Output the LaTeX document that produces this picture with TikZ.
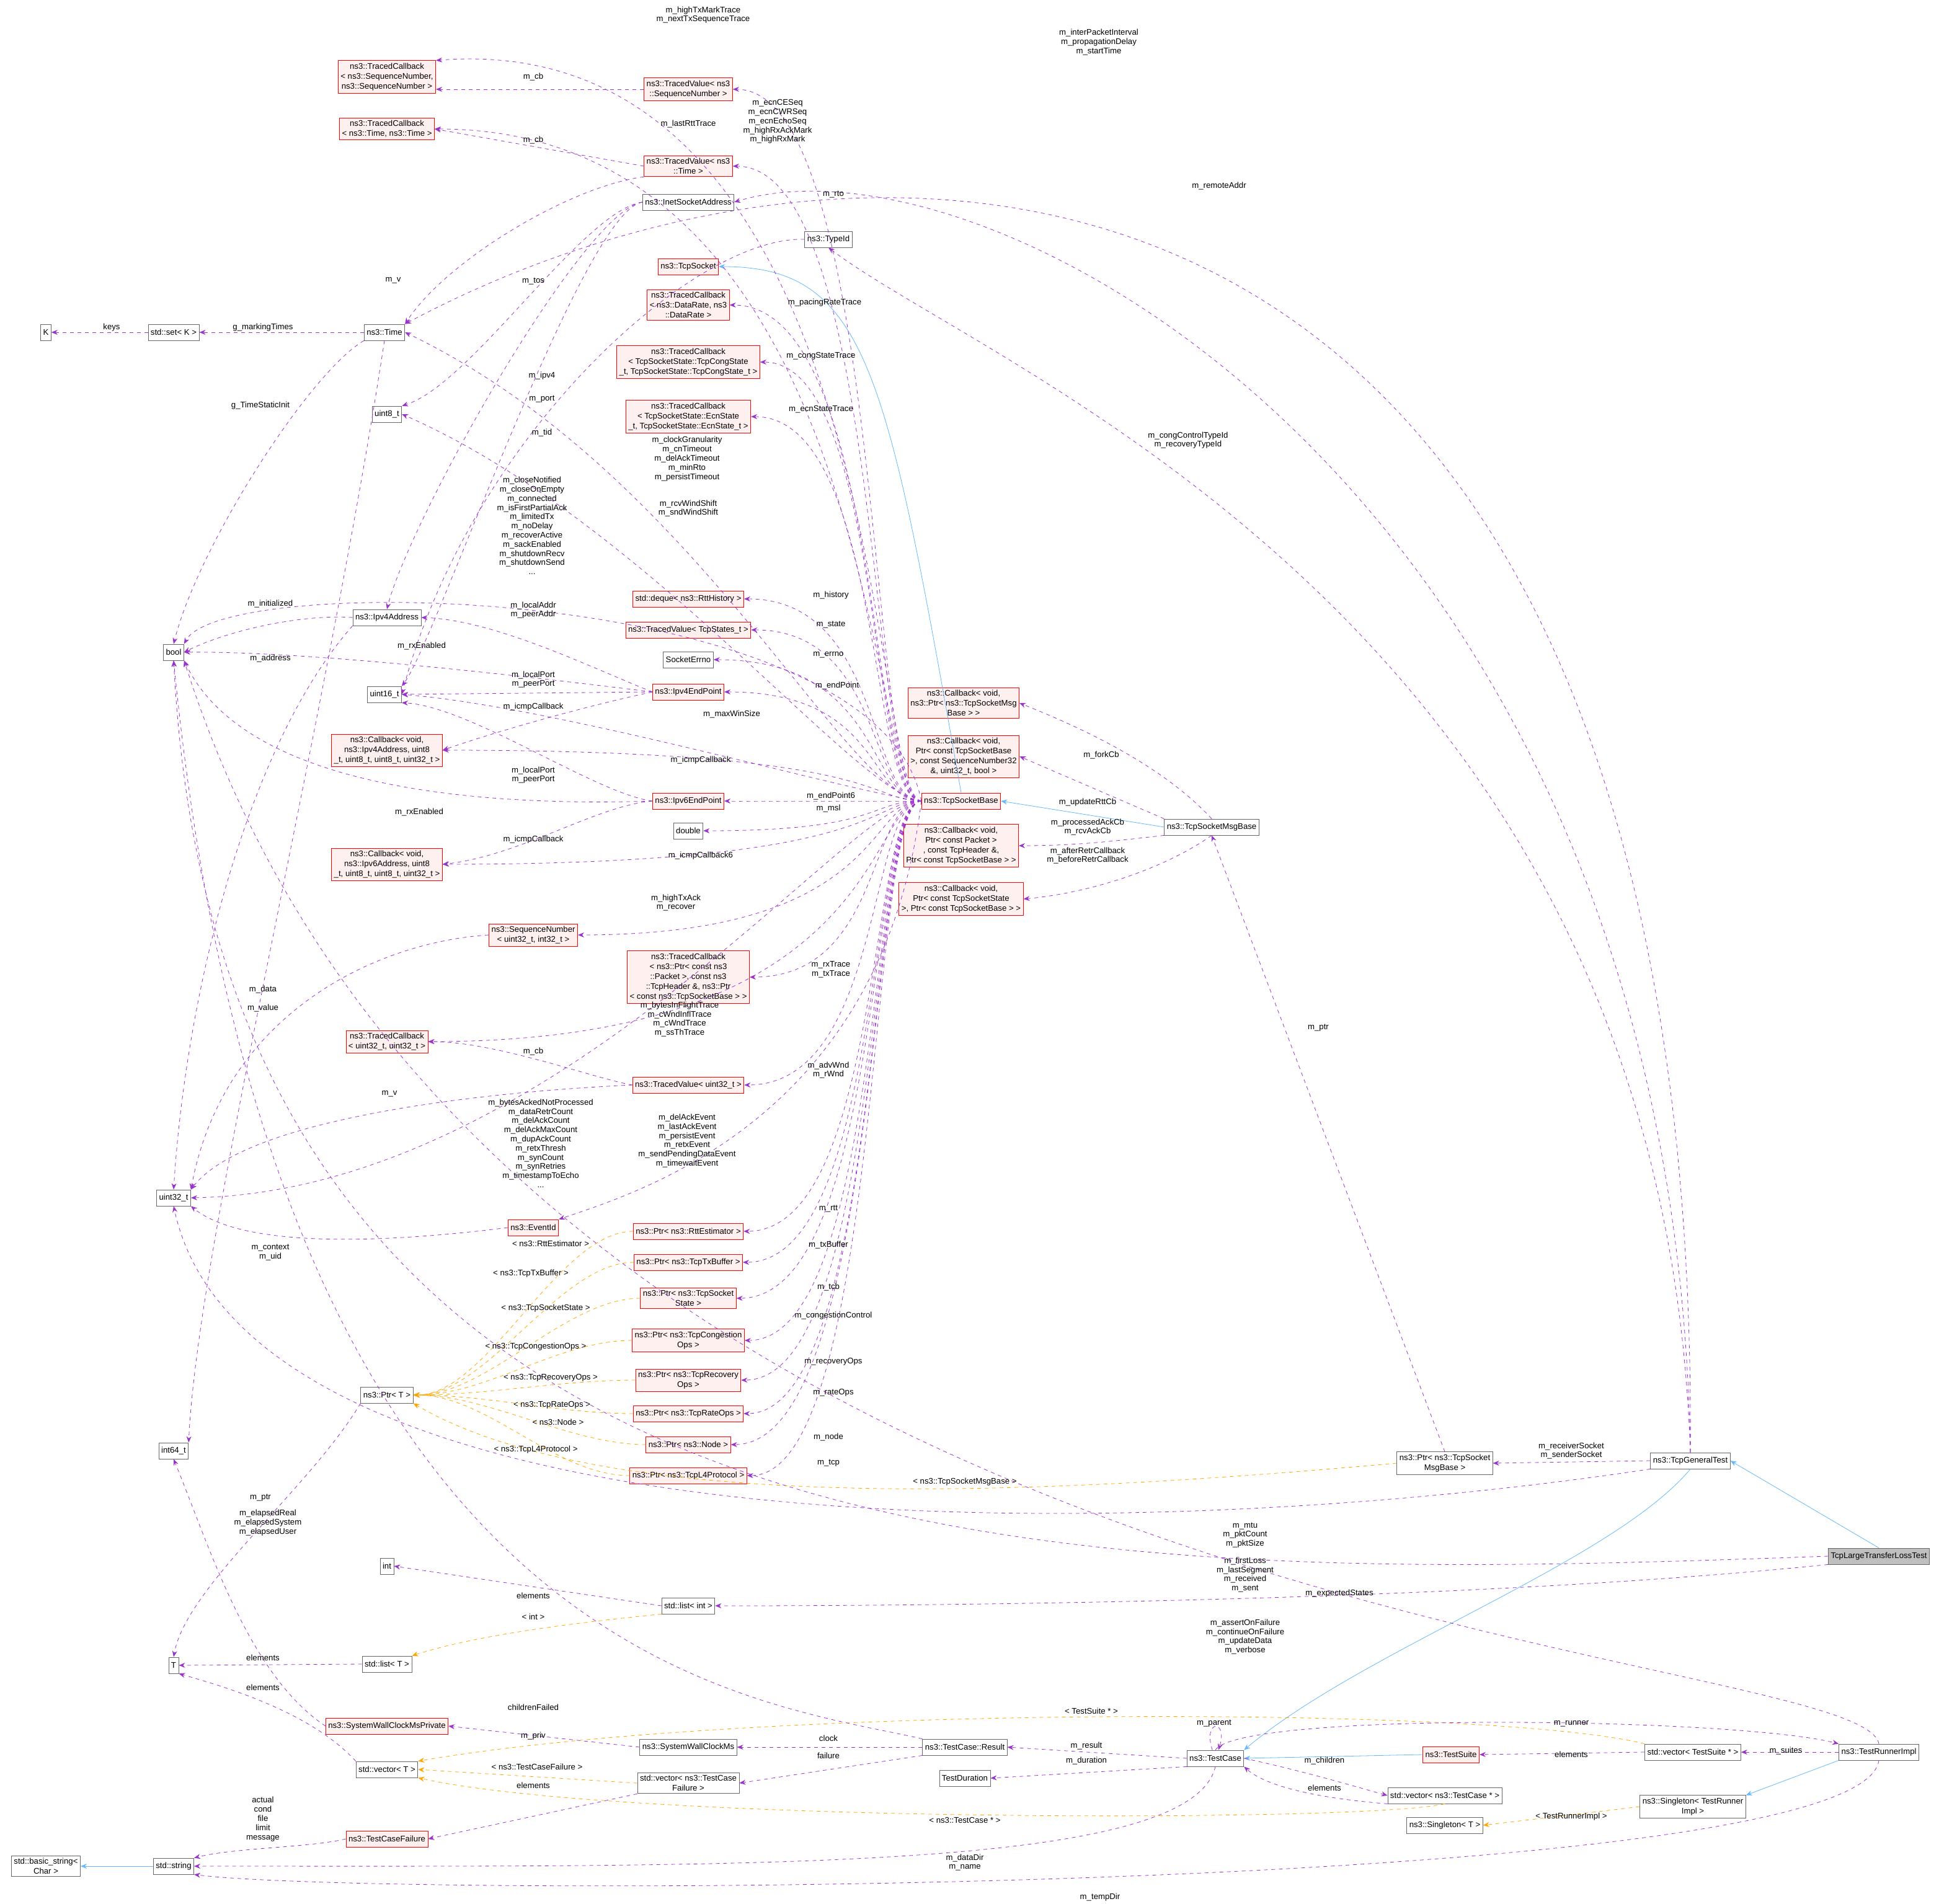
\documentclass[tikz,border=0pt]{standalone}
\usepackage{fontspec}
\setmainfont{Liberation Sans}
\usetikzlibrary{arrows.meta}
\definecolor{mpur}{HTML}{9A32CD}
\definecolor{morg}{HTML}{FFA500}
\definecolor{mblu}{HTML}{63B8FF}
\definecolor{rfill}{HTML}{FFF0F0}
\begin{document}
\begin{tikzpicture}[x=1pt,y=-1pt,
 every node/.style={font=\fontsize{6.6}{8}\selectfont},
 gb/.style={draw=black!60,fill=white,inner sep=2pt,minimum height=13pt,align=center},
 rb/.style={draw=red,fill=rfill,inner sep=2pt,minimum height=13pt,align=center},
 mem/.style={draw=mpur,dashed,-{Stealth[length=5pt,width=4pt]}},
 tpl/.style={draw=morg,dashed,-{Stealth[length=5pt,width=4pt]}},
 inh/.style={draw=mblu,-{Stealth[length=5pt,width=4pt]}},
 lb/.style={align=center,inner sep=0pt,font=\fontsize{6.6}{7.4}\selectfont}]
\useasboundingbox (0,0) rectangle (1563.5,1535.5);
\coordinate (bx) at (712,0);
% ---- nodes left
\node[gb] (K) at (37,268) {K};
\node[gb] (setK) at (140,268) {std::set< K >};
\node[gb] (time) at (310,268) {ns3::Time};
\node[gb] (u8) at (312,334) {uint8\_t};
\node[gb] (boolN) at (140,526) {bool};
\node[gb] (ipv4a) at (312,498) {ns3::Ipv4Address};
\node[gb] (u16) at (310,560) {uint16\_t};
\node[rb] (cb4) at (312,605) {ns3::Callback< void,\\ns3::Ipv4Address, uint8\\\_t, uint8\_t, uint8\_t, uint32\_t >};
\node[rb] (cb6) at (312,697) {ns3::Callback< void,\\ns3::Ipv6Address, uint8\\\_t, uint8\_t, uint8\_t, uint32\_t >};
\node[rb] (tcu32) at (312,840) {ns3::TracedCallback\\< uint32\_t, uint32\_t >};
\node[gb] (u32) at (140,966) {uint32\_t};
\node[gb] (i64) at (140,1170) {int64\_t};
\node[gb] (ptrT) at (312,1125) {ns3::Ptr< T >};
\node[gb] (intN) at (312,1263) {int};
\node[gb] (T) at (140,1343) {T};
\node[gb] (listT) at (312,1342) {std::list< T >};
\node[rb] (swcp) at (312,1392) {ns3::SystemWallClockMsPrivate};
\node[gb] (vecT) at (312,1427) {std::vector< T >};
\node[rb] (tcf) at (312,1483) {ns3::TestCaseFailure};
\node[gb] (str) at (140,1505) {std::string};
\node[gb] (bstr) at (37,1505) {std::basic\_string<\\Char >};
\node[rb] (tcSeq) at (312,62) {ns3::TracedCallback\\< ns3::SequenceNumber,\\ns3::SequenceNumber >};
\node[rb] (tcTime) at (312,104) {ns3::TracedCallback\\< ns3::Time, ns3::Time >};
% ---- middle
\node[rb] (tvSeq) at (555,72) {ns3::TracedValue< ns3\\::SequenceNumber >};
\node[rb] (tvTime) at (555,134) {ns3::TracedValue< ns3\\::Time >};
\node[gb] (inet) at (555,163) {ns3::InetSocketAddress};
\node[gb] (typeid) at (668,193) {ns3::TypeId};
\node[rb] (tcpsock) at (555,215) {ns3::TcpSocket};
\node[rb] (tcDR) at (555,246) {ns3::TracedCallback\\< ns3::DataRate, ns3\\::DataRate >};
\node[rb] (tcCong) at (555,292) {ns3::TracedCallback\\< TcpSocketState::TcpCongState\\\_t, TcpSocketState::TcpCongState\_t >};
\node[rb] (tcEcn) at (555,336) {ns3::TracedCallback\\< TcpSocketState::EcnState\\\_t, TcpSocketState::EcnState\_t >};
\node[rb] (deque) at (555,483) {std::deque< ns3::RttHistory >};
\node[rb] (tvStates) at (555,508) {ns3::TracedValue< TcpStates\_t >};
\node[gb] (errno) at (555,532) {SocketErrno};
\node[rb] (ep4) at (555,558) {ns3::Ipv4EndPoint};
\node[rb] (ep6) at (555,646) {ns3::Ipv6EndPoint};
\node[gb] (dbl) at (555,670) {double};
\node[rb] (seqnum) at (430,754) {ns3::SequenceNumber\\< uint32\_t, int32\_t >};
\node[rb] (tcPkt) at (555,788) {ns3::TracedCallback\\< ns3::Ptr< const ns3\\::Packet >, const ns3\\::TcpHeader \&, ns3::Ptr\\< const ns3::TcpSocketBase > >};
\node[rb] (tvU32) at (555,875) {ns3::TracedValue< uint32\_t >};
\node[rb] (evid) at (430,990) {ns3::EventId};
\node[rb] (pRtt) at (555,993) {ns3::Ptr< ns3::RttEstimator >};
\node[rb] (pTx) at (555,1018) {ns3::Ptr< ns3::TcpTxBuffer >};
\node[rb] (pTcb) at (555,1047) {ns3::Ptr< ns3::TcpSocket\\State >};
\node[rb] (pCong) at (555,1081) {ns3::Ptr< ns3::TcpCongestion\\Ops >};
\node[rb] (pRec) at (555,1113) {ns3::Ptr< ns3::TcpRecovery\\Ops >};
\node[rb] (pRate) at (555,1140) {ns3::Ptr< ns3::TcpRateOps >};
\node[rb] (pNode) at (555,1165) {ns3::Ptr< ns3::Node >};
\node[rb] (pL4) at (555,1190) {ns3::Ptr< ns3::TcpL4Protocol >};
\node[gb] (listInt) at (555,1295) {std::list< int >};
\node[gb] (swc) at (555,1409) {ns3::SystemWallClockMs};
\node[gb] (vecTCF) at (555,1438) {std::vector< ns3::TestCase\\Failure >};
\node[gb] (result) at (778,1409) {ns3::TestCase::Result};
\node[gb] (tdur) at (778,1434) {TestDuration};
% ---- right
\node[rb] (tsb) at (775,646) {ns3::TcpSocketBase};
\node[rb] (cbFork) at (777,567) {ns3::Callback< void,\\ns3::Ptr< ns3::TcpSocketMsg\\Base > >};
\node[rb] (cbRtt) at (777,610) {ns3::Callback< void,\\Ptr< const TcpSocketBase\\>, const SequenceNumber32\\\&, uint32\_t, bool >};
\node[rb] (cbAck) at (775,682) {ns3::Callback< void,\\Ptr< const Packet >\\, const TcpHeader \&,\\Ptr< const TcpSocketBase > >};
\node[rb] (cbRetr) at (775,725) {ns3::Callback< void,\\Ptr< const TcpSocketState\\>, Ptr< const TcpSocketBase > >};
\node[gb] (tsmb) at (977,667) {ns3::TcpSocketMsgBase};
\node[gb] (ptsmb) at (1165,1180) {ns3::Ptr< ns3::TcpSocket\\MsgBase >};
\node[gb] (gen) at (1363,1178) {ns3::TcpGeneralTest};
\node[gb,fill=black!25] (ltl) at (1515,1255) {TcpLargeTransferLossTest};
\node[gb] (tcase) at (980,1418) {ns3::TestCase};
\node[rb] (tsuite) at (1170,1415) {ns3::TestSuite};
\node[gb] (vecTC) at (1165,1448) {std::vector< ns3::TestCase * >};
\node[gb] (singT) at (1165,1472) {ns3::Singleton< T >};
\node[gb] (vecTS) at (1365,1413) {std::vector< TestSuite * >};
\node[gb] (singTR) at (1365,1457) {ns3::Singleton< TestRunner\\Impl >};
\node[gb] (runner) at (1515,1413) {ns3::TestRunnerImpl};
% ---- inheritance
\draw[inh] (tsb.north) .. controls (715,300) and (700,215) .. (tcpsock.east);
\draw[inh] (tsmb.west) -- (tsb.east);
\draw[inh] (ltl.north) -- (gen.east);
\draw[inh] (gen.south) .. controls (1300,1260) and (1100,1330) .. (tcase.north east);
\draw[inh] (tsuite.west) -- (tcase.east);
\draw[inh] (runner.south west) -- (singTR.north east);
\draw[inh] (str.west) -- (bstr.east);
% ---- tsb members
\draw[mem] (tsb.west) .. controls (700,640) and (720,20) .. (tcSeq.north east);
\foreach \t in {tvSeq,tcTime,tvTime,tcDR,tcCong,tcEcn,deque,tvStates,errno,ep4,ep6,dbl,seqnum,tcPkt,tvU32,pRtt,pTx,pTcb,pCong,pRec,pRate,pNode,pL4,cb4,cb6,tcu32}
  \draw[mem] (tsb.west) .. controls (700,646) and (\t.east -| bx) .. (\t.east);
\draw[mem] (tsb.west) .. controls (712,900) and (520,960) .. (evid.north east);
\draw[mem] (tsb.west) .. controls (680,640) and (560,380) .. (time.east);
\draw[mem] (tsb.west) .. controls (690,640) and (520,420) .. (u8.east);
\draw[mem] (tsb.west) .. controls (710,470) and (180,460) .. (boolN.north east);
\draw[mem] (tsb.west) .. controls (690,640) and (450,570) .. (u16.east);
\draw[mem] (tsb.west) .. controls (690,640) and (450,960) .. (u32.east);
% ---- small edges
\draw[mem] (tvSeq.west) -- (tcSeq.east |- tvSeq.west);
\draw[mem] (tvTime.west) -- (tcTime.east);
\draw[mem] (tvTime.south west) .. controls (460,150) and (360,210) .. (time.north east);
\draw[mem] (inet.west) .. controls (470,170) and (380,310) .. (u8.north east);
\draw[mem] (inet.west) .. controls (470,170) and (330,420) .. (ipv4a.north);
\draw[mem] (inet.west) .. controls (470,170) and (350,520) .. (u16.north east);
\draw[mem] (typeid.west) .. controls (560,190) and (380,350) .. (u16.east);
\draw[mem] (time.west) -- (setK.east);
\draw[mem] (setK.west) -- (K.east);
\draw[mem] (time.south west) .. controls (250,300) and (160,440) .. (boolN.north);
\draw[mem] (time.south) .. controls (260,600) and (160,1000) .. (i64.north east);
\draw[mem] (ipv4a.west) .. controls (240,495) and (180,510) .. (boolN.east);
\draw[mem] (ipv4a.south west) .. controls (200,600) and (150,800) .. (u32.north);
\draw[mem] (ep4.west) .. controls (480,540) and (400,500) .. (ipv4a.east);
\draw[mem] (ep4.west) .. controls (420,545) and (250,525) .. (boolN.east);
\draw[mem] (ep4.west) -- (u16.east);
\draw[mem] (ep4.west) .. controls (470,570) and (400,590) .. (cb4.east);
\draw[mem] (ep6.west) .. controls (480,640) and (380,570) .. (u16.south east);
\draw[mem] (ep6.west) .. controls (400,650) and (200,640) .. (boolN.south east);
\draw[mem] (ep6.west) .. controls (480,650) and (420,690) .. (cb6.east);
\draw[mem] (seqnum.west) .. controls (300,760) and (180,820) .. (u32.north east);
\draw[mem] (tvU32.west) .. controls (480,870) and (400,840) .. (tcu32.east);
\draw[mem] (tvU32.west) .. controls (400,880) and (200,900) .. (u32.north east);
\draw[mem] (evid.west) .. controls (330,1000) and (200,1010) .. (u32.south east);
\foreach \t in {pRtt,pTx,pTcb,pCong,pRec,pRate,pNode,pL4}
  \draw[tpl] (\t.west) .. controls +(-60,0) and +(60,0) .. (ptrT.east);
\draw[tpl] (ptsmb.west) .. controls (900,1200) and (500,1230) .. (ptrT.south east);
\draw[mem] (ptrT.south west) .. controls (250,1200) and (150,1280) .. (T.north);
\draw[mem] (tsmb.north) .. controls (940,620) and (880,590) .. (cbFork.east);
\draw[mem] (tsmb.north west) -- (cbRtt.east);
\draw[mem] (tsmb.south west) .. controls (900,678) and (870,682) .. (cbAck.east);
\draw[mem] (tsmb.south) .. controls (940,700) and (880,720) .. (cbRetr.east);
\draw[mem] (ptsmb.north) -- (tsmb.south);
\draw[mem] (gen.west) -- (ptsmb.east);
\draw[mem] (gen.north) .. controls (1370,60) and (700,62) .. (time.north east);
\draw[mem] (gen.north) .. controls (1350,400) and (800,100) .. (inet.east);
\draw[mem] (gen.north) .. controls (1340,500) and (800,300) .. (typeid.south);
\draw[mem] (gen.south west) .. controls (900,1250) and (200,1250) .. (u32.south);
\draw[mem] (ltl.west) .. controls (900,1275) and (180,1300) .. (boolN.south);
\draw[mem] (ltl.south west) .. controls (1200,1290) and (800,1295) .. (listInt.east);
\draw[mem] (listInt.west) -- (intN.east);
\draw[tpl] (listInt.south west) .. controls (450,1310) and (380,1320) .. (listT.north east);
\draw[mem] (listT.west) -- (T.east);
\draw[mem] (vecT.north west) .. controls (250,1380) and (180,1360) .. (T.south east);
\draw[mem] (swcp.west) .. controls (200,1350) and (170,1250) .. (i64.south);
\draw[mem] (swc.west) -- (swcp.east);
\draw[mem] (result.west) -- (swc.east);
\draw[mem] (result.south west) -- (vecTCF.east);
\draw[mem] (result.north west) .. controls (600,1370) and (220,1340) .. (boolN.south);
\draw[mem] (vecTCF.south west) -- (tcf.east);
\draw[tpl] (vecTCF.west) -- (vecT.east);
\draw[mem] (tcf.west) .. controls (250,1490) and (190,1490) .. (str.north east);
\draw[mem] (tcase.west) -- (result.east);
\draw[mem] (tcase.south west) -- (tdur.east);
\draw[mem] (tcase.110) .. controls +(-8,-25) and +(8,-25) .. (tcase.70);
\draw[mem] (tcase.east) .. controls (1050,1428) and (1090,1440) .. (vecTC.west);
\draw[mem] (vecTC.south west) .. controls (1060,1450) and (1020,1440) .. (tcase.south east);
\draw[tpl] (vecTC.south) .. controls (1100,1470) and (500,1470) .. (vecT.south east);
\draw[mem] (tcase.south) .. controls (960,1510) and (600,1505) .. (str.east);
\draw[mem] (vecTS.west) -- (tsuite.east);
\draw[tpl] (vecTS.north west) .. controls (1200,1375) and (600,1375) .. (vecT.north east);
\draw[mem] (runner.west) -- (vecTS.east);
\draw[mem] (tcase.north) .. controls (1000,1380) and (1400,1385) .. (runner.north west);
\draw[mem] (runner.north) .. controls (1500,1325) and (400,1320) .. (boolN.south east);
\draw[mem] (runner.south) .. controls (1500,1530) and (300,1530) .. (str.south east);
\draw[tpl] (singTR.west) -- (singT.east);
% ---- labels
\node[lb] at (567,12) {m\_highTxMarkTrace\\m\_nextTxSequenceTrace};
\node[lb] at (886,34) {m\_interPacketInterval\\m\_propagationDelay\\m\_startTime};
\node[lb] at (983,150) {m\_remoteAddr};
\node[lb] at (958,355) {m\_congControlTypeId\\m\_recoveryTypeId};
\node[lb] at (430,62) {m\_cb};
\node[lb] at (430,113) {m\_cb};
\node[lb] at (555,100) {m\_lastRttTrace};
\node[lb] at (627,98) {m\_ecnCESeq\\m\_ecnCWRSeq\\m\_ecnEchoSeq\\m\_highRxAckMark\\m\_highRxMark};
\node[lb] at (672,157) {m\_rto};
\node[lb] at (317,226) {m\_v};
\node[lb] at (430,227) {m\_tos};
\node[lb] at (665,244) {m\_pacingRateTrace};
\node[lb] at (662,287) {m\_congStateTrace};
\node[lb] at (662,330) {m\_ecnStateTrace};
\node[lb] at (212,264) {g\_markingTimes};
\node[lb] at (90,264) {keys};
\node[lb] at (437,303) {m\_ipv4};
\node[lb] at (437,322) {m\_port};
\node[lb] at (210,327) {g\_TimeStaticInit};
\node[lb] at (437,349) {m\_tid};
\node[lb] at (554,370) {m\_clockGranularity\\m\_cnTimeout\\m\_delAckTimeout\\m\_minRto\\m\_persistTimeout};
\node[lb] at (555,410) {m\_rcvWindShift\\m\_sndWindShift};
\node[lb] at (429,424) {m\_closeNotified\\m\_closeOnEmpty\\m\_connected\\m\_isFirstPartialAck\\m\_limitedTx\\m\_noDelay\\m\_recoverActive\\m\_sackEnabled\\m\_shutdownRecv\\m\_shutdownSend\\...};
\node[lb] at (670,480) {m\_history};
\node[lb] at (670,504) {m\_state};
\node[lb] at (668,528) {m\_errno};
\node[lb] at (675,553) {m\_endPoint};
\node[lb] at (218,487) {m\_initialized};
\node[lb] at (218,531) {m\_address};
\node[lb] at (430,492) {m\_localAddr\\m\_peerAddr};
\node[lb] at (340,521) {m\_rxEnabled};
\node[lb] at (430,548) {m\_localPort\\m\_peerPort};
\node[lb] at (430,570) {m\_icmpCallback};
\node[lb] at (590,576) {m\_maxWinSize};
\node[lb] at (565,613) {m\_icmpCallback};
\node[lb] at (430,625) {m\_localPort\\m\_peerPort};
\node[lb] at (670,642) {m\_endPoint6};
\node[lb] at (668,652) {m\_msl};
\node[lb] at (338,655) {m\_rxEnabled};
\node[lb] at (430,677) {m\_icmpCallback};
\node[lb] at (565,690) {m\_icmpCallback6};
\node[lb] at (545,728) {m\_highTxAck\\m\_recover};
\node[lb] at (670,782) {m\_rxTrace\\m\_txTrace};
\node[lb] at (212,798) {m\_data};
\node[lb] at (212,813) {m\_value};
\node[lb] at (548,822) {m\_bytesInFlightTrace\\m\_cWndInflTrace\\m\_cWndTrace\\m\_ssThTrace};
\node[lb] at (430,848) {m\_cb};
\node[lb] at (668,863) {m\_advWnd\\m\_rWnd};
\node[lb] at (314,882) {m\_v};
\node[lb] at (436,922) {m\_bytesAckedNotProcessed\\m\_dataRetrCount\\m\_delAckCount\\m\_delAckMaxCount\\m\_dupAckCount\\m\_retxThresh\\m\_synCount\\m\_synRetries\\m\_timestampToEcho\\...};
\node[lb] at (554,920) {m\_delAckEvent\\m\_lastAckEvent\\m\_persistEvent\\m\_retxEvent\\m\_sendPendingDataEvent\\m\_timewaitEvent};
\node[lb] at (668,975) {m\_rtt};
\node[lb] at (668,1004) {m\_txBuffer};
\node[lb] at (668,1038) {m\_tcb};
\node[lb] at (672,1061) {m\_congestionControl};
\node[lb] at (672,1098) {m\_recoveryOps};
\node[lb] at (672,1123) {m\_rateOps};
\node[lb] at (668,1159) {m\_node};
\node[lb] at (668,1180) {m\_tcp};
\node[lb] at (218,1010) {m\_context\\m\_uid};
\node[lb] at (444,1003) {< ns3::RttEstimator >};
\node[lb] at (428,1027) {< ns3::TcpTxBuffer >};
\node[lb] at (440,1055) {< ns3::TcpSocketState >};
\node[lb] at (432,1086) {< ns3::TcpCongestionOps >};
\node[lb] at (444,1111) {< ns3::TcpRecoveryOps >};
\node[lb] at (445,1133) {< ns3::TcpRateOps >};
\node[lb] at (450,1147) {< ns3::Node >};
\node[lb] at (432,1169) {< ns3::TcpL4Protocol >};
\node[lb] at (778,1195) {< ns3::TcpSocketMsgBase >};
\node[lb] at (210,1208) {m\_ptr};
\node[lb] at (888,609) {m\_forkCb};
\node[lb] at (877,647) {m\_updateRttCb};
\node[lb] at (877,667) {m\_processedAckCb\\m\_rcvAckCb};
\node[lb] at (877,690) {m\_afterRetrCallback\\m\_beforeRetrCallback};
\node[lb] at (1063,829) {m\_ptr};
\node[lb] at (1267,1170) {m\_receiverSocket\\m\_senderSocket};
\node[lb] at (1004,1238) {m\_mtu\\m\_pktCount\\m\_pktSize};
\node[lb] at (1004,1270) {m\_firstLoss\\m\_lastSegment\\m\_received\\m\_sent};
\node[lb] at (1080,1285) {m\_expectedStates};
\node[lb] at (430,1287) {elements};
\node[lb] at (430,1304) {< int >};
\node[lb] at (1004,1320) {m\_assertOnFailure\\m\_continueOnFailure\\m\_updateData\\m\_verbose};
\node[lb] at (212,1337) {elements};
\node[lb] at (212,1361) {elements};
\node[lb] at (216,1228) {m\_elapsedReal\\m\_elapsedSystem\\m\_elapsedUser};
\node[lb] at (430,1377) {childrenFailed};
\node[lb] at (880,1380) {< TestSuite * >};
\node[lb] at (979,1390) {m\_parent};
\node[lb] at (1267,1390) {m\_runner};
\node[lb] at (430,1400) {m\_priv};
\node[lb] at (668,1402) {clock};
\node[lb] at (668,1416) {failure};
\node[lb] at (876,1408) {m\_result};
\node[lb] at (876,1420) {m\_duration};
\node[lb] at (1068,1420) {m\_children};
\node[lb] at (1068,1442) {elements};
\node[lb] at (1267,1415) {elements};
\node[lb] at (1440,1412) {m\_suites};
\node[lb] at (433,1425) {< ns3::TestCaseFailure >};
\node[lb] at (430,1440) {elements};
\node[lb] at (212,1467) {actual\\cond\\file\\limit\\message};
\node[lb] at (778,1468) {< ns3::TestCase * >};
\node[lb] at (1267,1465) {< TestRunnerImpl >};
\node[lb] at (778,1502) {m\_dataDir\\m\_name};
\node[lb] at (887,1530) {m\_tempDir};
\end{tikzpicture}
\end{document}
